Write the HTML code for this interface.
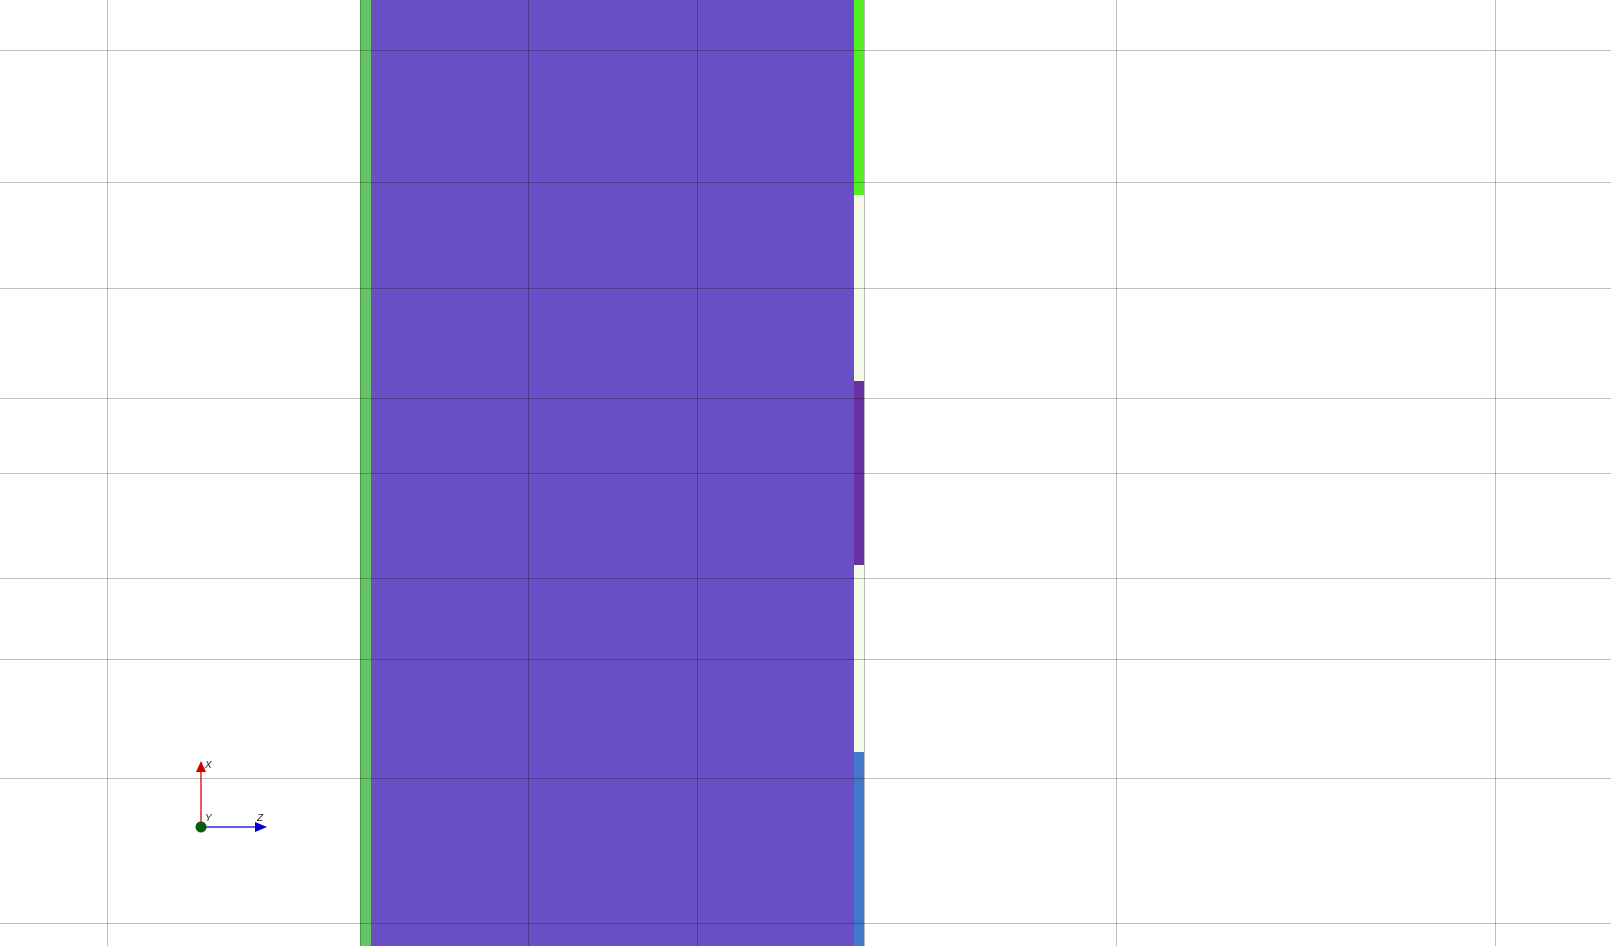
<!DOCTYPE html>
<html><head><meta charset="utf-8"><style>html,body{margin:0;padding:0;background:#fff;overflow:hidden}svg{display:block}</style></head>
<body>
<svg id="vp" width="1611" height="946" xmlns="http://www.w3.org/2000/svg">
  <rect x="0" y="0" width="1611" height="946" fill="#ffffff"/>
  <rect x="360" y="0" width="11" height="946" fill="#66c466"/>
  <rect x="360" y="0" width="1" height="946" fill="#4a9a4a"/>
  <rect x="371" y="0" width="483" height="946" fill="#684fc6"/>
  <rect x="854" y="0" width="10" height="195" fill="#55ee22"/>
  <rect x="854" y="195" width="10" height="186" fill="#f4f9e8"/>
  <rect x="854" y="381" width="10" height="184" fill="#6633a0"/>
  <rect x="854" y="565" width="10" height="187" fill="#f4f9e8"/>
  <rect x="854" y="752" width="10" height="194" fill="#4477cc"/>
  <rect x="864" y="0" width="1" height="946" fill="#b8b8b0"/>
  <g id="grid"></g>
  <g>
    <line x1="201" y1="827" x2="201" y2="768" stroke="#e00000" stroke-width="1.3"/>
    <polygon points="201,761 196,772 206,772" fill="#cc0000"/>
    <text x="205" y="768" font-family="Liberation Sans, sans-serif" font-size="10" font-style="italic" fill="#222">X</text>
    <line x1="201" y1="827" x2="258" y2="827" stroke="#0000dd" stroke-width="1.3"/>
    <polygon points="267,827 255,822 255,832" fill="#0000cc"/>
    <text x="257" y="821" font-family="Liberation Sans, sans-serif" font-size="10" font-style="italic" fill="#222">Z</text>
    <circle cx="201" cy="827" r="5.5" fill="#0a5a12"/>
    <text x="205" y="821" font-family="Liberation Sans, sans-serif" font-size="10" font-style="italic" fill="#222">Y</text>
  </g>
</svg>
<script>
const gridX = [107, 528, 697, 1116, 1495];
const gridY = [50, 182, 288, 398, 473, 578, 659, 778, 923];
const g = document.getElementById('grid');
const NS = 'http://www.w3.org/2000/svg';
gridX.forEach(function (x) {
  const l = document.createElementNS(NS, 'line');
  l.setAttribute('x1', x + 0.5); l.setAttribute('x2', x + 0.5);
  l.setAttribute('y1', 0); l.setAttribute('y2', 946);
  l.setAttribute('stroke', 'rgba(0,0,0,0.25)'); l.setAttribute('stroke-width', '1');
  
  
  g.appendChild(l);
});
gridY.forEach(function (y) {
  const l = document.createElementNS(NS, 'line');
  l.setAttribute('y1', y + 0.5); l.setAttribute('y2', y + 0.5);
  l.setAttribute('x1', 0); l.setAttribute('x2', 1611);
  l.setAttribute('stroke', 'rgba(0,0,0,0.25)'); l.setAttribute('stroke-width', '1');
  
  
  g.appendChild(l);
});
</script>
</body></html>
